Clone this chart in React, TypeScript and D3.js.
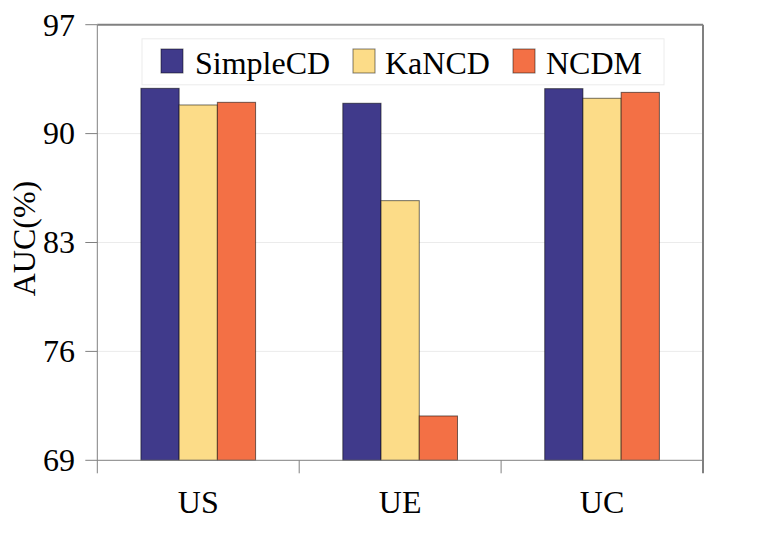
import * as d3 from "d3";

const categories = ["US", "UE", "UC"];
const models = ["SimpleCD", "KaNCD", "NCDM"];
const simpleCD = [92.91, 91.95, 92.89];
const kaNCD = [91.84, 85.69, 92.27];
const ncdm = [92.01, 71.85, 92.65];
const yTicks = [69, 76, 83, 90, 97];
const colors = ["#403a8b", "#fcdc88", "#f37045"];

const series = [simpleCD, kaNCD, ncdm];

const W = 761;
const H = 538;
const margin = { top: 24.7, right: 58, bottom: 77.7, left: 97.3 };
const txt = { fontFamily: "Liberation Serif", fontSize: 32, fill: "#000" };

const App = () => {
  const x0 = d3
    .scaleBand()
    .domain(categories)
    .range([margin.left, W - margin.right])
    .padding(0);

  const bw = x0.bandwidth();
  const x1 = d3
    .scaleBand()
    .domain(models)
    .range([bw * 0.216, bw * 0.784])
    .padding(0);

  const y = d3
    .scaleLinear()
    .domain([69, 97])
    .range([H - margin.bottom, margin.top]);

  const left = margin.left;
  const right = W - margin.right;
  const bottom = y(69);
  const top = y(97);

  const catEdges = [...categories.map((c) => x0(c) as number), right];

  // legend layout
  const legendItems = [
    { name: models[0], sx: 161, tx: 195 },
    { name: models[1], sx: 353, tx: 385 },
    { name: models[2], sx: 513, tx: 546 },
  ];

  return (
    <div style={{ position: "absolute", left: 0, top: 0 }}>
      <svg width={W} height={H} viewBox={`0 0 ${W} ${H}`} style={{ display: "block", background: "#fff" }}>
        {/* grid */}
        {yTicks.slice(1, -1).map((t) => (
          <line key={t} x1={left} x2={right} y1={y(t)} y2={y(t)} stroke="#ebebeb" strokeWidth={1} />
        ))}

        {/* bars */}
        {categories.map((c, i) => (
          <g key={c} transform={`translate(${x0(c)},0)`}>
            {series.map((s, j) => (
              <rect
                key={j}
                x={x1(models[j])}
                y={y(s[i])}
                width={x1.bandwidth()}
                height={bottom - y(s[i])}
                fill={colors[j]}
                stroke="#000"
                strokeOpacity={0.55}
                strokeWidth={1}
              />
            ))}
          </g>
        ))}

        {/* frame */}
        <line x1={left} x2={right} y1={top} y2={top} stroke="#808080" strokeWidth={2} />
        <line x1={right} x2={right} y1={top} y2={bottom + 13} stroke="#808080" strokeWidth={2} />
        <line x1={left} x2={left} y1={top} y2={bottom + 13} stroke="#808080" strokeWidth={1} />
        <line x1={left} x2={right} y1={bottom} y2={bottom} stroke="#808080" strokeWidth={1} />

        {/* y ticks */}
        {yTicks.map((t) => (
          <g key={t}>
            <line x1={left - 12} x2={left} y1={y(t)} y2={y(t)} stroke="#808080" strokeWidth={1} />
            <text x={75} y={y(t)} dy="0.34em" textAnchor="end" style={txt}>
              {t}
            </text>
          </g>
        ))}

        {/* x ticks */}
        {catEdges.slice(1, -1).map((xv, i) => (
          <line key={i} x1={xv} x2={xv} y1={bottom} y2={bottom + 13} stroke="#808080" strokeWidth={1} />
        ))}
        {categories.map((c) => (
          <text key={c} x={(x0(c) as number) + bw / 2} y={512.7} textAnchor="middle" style={txt}>
            {c}
          </text>
        ))}

        {/* y label */}
        <text
          transform={`translate(35,${(top + bottom) / 2 - 4}) rotate(-90)`}
          textAnchor="middle"
          style={txt}
        >
          AUC(%)
        </text>

        {/* legend */}
        <rect x={142} y={38.8} width={522} height={46} fill="#fff" stroke="#ececec" strokeWidth={1} />
        {legendItems.map((d, j) => (
          <g key={d.name}>
            <rect x={d.sx} y={49} width={22} height={24} fill={colors[j]} stroke="#000" strokeOpacity={0.5} strokeWidth={1} />
            <text x={d.tx} y={74} style={txt}>
              {d.name}
            </text>
          </g>
        ))}
      </svg>
    </div>
  );
};

export default App;
